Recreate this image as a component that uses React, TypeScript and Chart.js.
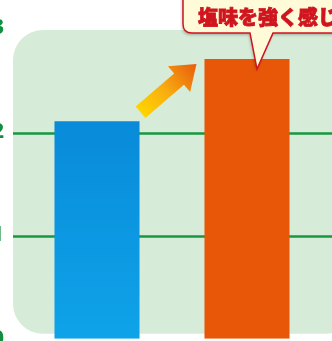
import React, { useEffect, useRef } from "react";
import { Chart, registerables } from "chart.js";

Chart.register(...registerables);

const categories = ["A", "B"];
const values = [2.1, 2.7];
const yTicks = [0, 1, 2, 3];
const gridValues = [1, 2];
const calloutText = "塩味を強く感じる";

const PANEL = "#d6ecd8";
const GRID = "#17973f";
const TICK = "#10903f";
const ORANGE = "#e85708";
const RED = "#d0151f";

const decor = {
  id: "decor",
  beforeDraw(chart: any) {
    const { ctx, chartArea, scales } = chart;
    const y = scales.y;
    ctx.save();
    ctx.fillStyle = "#ffffff";
    ctx.fillRect(0, 0, chart.width, chart.height);
    const left = chartArea.left - 9;
    const top = y.getPixelForValue(3) + 2;
    const right = chart.width + 10;
    const bottom = y.getPixelForValue(0) - 5;
    ctx.fillStyle = PANEL;
    ctx.beginPath();
    (ctx as any).roundRect(left, top, right - left, bottom - top, 30);
    ctx.fill();
    ctx.restore();
  },
  beforeDatasetsDraw(chart: any) {
    const { ctx, chartArea, scales } = chart;
    const y = scales.y;
    ctx.save();
    ctx.strokeStyle = GRID;
    ctx.lineWidth = 2.5;
    gridValues.forEach((v) => {
      const py = Math.round(y.getPixelForValue(v)) + 1.5;
      ctx.beginPath();
      ctx.moveTo(chartArea.left - 9, py);
      ctx.lineTo(chart.width, py);
      ctx.stroke();
    });
    ctx.restore();
  },
  afterDraw(chart: any) {
    const { ctx } = chart;
    const els = chart.getDatasetMeta(0).data;
    const b = els[0];
    const o = els[1];
    // arrow
    const tx = b.x + b.width / 2 + 1;
    const ty = b.y - 9;
    const hx = o.x - o.width / 2 - 8;
    const hy = o.y + 5;
    const dx = hx - tx;
    const dy = hy - ty;
    const len = Math.hypot(dx, dy);
    const ux = dx / len;
    const uy = dy / len;
    const nx = -uy;
    const ny = ux;
    const sw = 7.5;
    const hw = 17;
    const hl = 23;
    const bx = hx - ux * hl;
    const by = hy - uy * hl;
    ctx.save();
    const g = ctx.createLinearGradient(tx, ty, hx, hy);
    g.addColorStop(0, "#ffd400");
    g.addColorStop(0.45, "#f8ad10");
    g.addColorStop(1, "#e85c0c");
    ctx.fillStyle = g;
    ctx.beginPath();
    ctx.moveTo(tx + nx * sw, ty + ny * sw);
    ctx.lineTo(bx + nx * sw, by + ny * sw);
    ctx.lineTo(bx + nx * hw, by + ny * hw);
    ctx.lineTo(hx, hy);
    ctx.lineTo(bx - nx * hw, by - ny * hw);
    ctx.lineTo(bx - nx * sw, by - ny * sw);
    ctx.lineTo(tx - nx * sw, ty - ny * sw);
    ctx.closePath();
    ctx.fill();
    ctx.restore();

    // callout
    const tipX = o.x + 10;
    const tipY = o.y + 10;
    const left = o.x - 64;
    const boxBottom = o.y - 26;
    const boxTop = -5;
    const right = chart.width + 10;
    const r = 9;
    ctx.save();
    ctx.shadowColor = "rgba(0,0,0,0.25)";
    ctx.shadowBlur = 3;
    ctx.shadowOffsetX = -1;
    ctx.shadowOffsetY = 2;
    ctx.fillStyle = "#fffbd9";
    ctx.strokeStyle = RED;
    ctx.lineWidth = 1.5;
    ctx.beginPath();
    ctx.moveTo(left, boxTop);
    ctx.lineTo(left, boxBottom - r);
    ctx.quadraticCurveTo(left, boxBottom, left + r, boxBottom);
    ctx.lineTo(o.x + 3, boxBottom);
    ctx.lineTo(tipX, tipY);
    ctx.lineTo(o.x + 26, boxBottom);
    ctx.lineTo(right, boxBottom);
    ctx.lineTo(right, boxTop);
    ctx.closePath();
    ctx.fill();
    ctx.shadowColor = "transparent";
    ctx.stroke();
    ctx.fillStyle = RED;
    ctx.strokeStyle = RED;
    ctx.lineWidth = 0.8;
    ctx.font = "900 20px 'Noto Sans CJK JP'";
    ctx.textBaseline = "alphabetic";
    ctx.textAlign = "left";
    ctx.fillText(calloutText, left + 15, boxBottom - 8);
    ctx.strokeText(calloutText, left + 15, boxBottom - 8);
    ctx.restore();
  },
};

export default function App() {
  const ref = useRef<HTMLCanvasElement>(null);
  useEffect(() => {
    const canvas = ref.current!;
    const chart = new Chart(canvas, {
      type: "bar",
      data: {
        labels: categories,
        datasets: [
          {
            data: values,
            backgroundColor: (c: any) => {
              if (c.dataIndex === 1) return ORANGE;
              const area = c.chart.chartArea;
              if (!area) return "#0a8ed9";
              const g = c.chart.ctx.createLinearGradient(0, area.top, 0, area.bottom);
              g.addColorStop(0, "#0680d2");
              g.addColorStop(1, "#0ea3e9");
              return g;
            },
            borderWidth: 0,
            barPercentage: 1,
            categoryPercentage: 0.567,
          },
        ],
      },
      options: {
        animation: false,
        responsive: false,
        devicePixelRatio: 1,
        layout: { padding: { top: 58, bottom: 30, right: 24, left: 0 } },
        plugins: { legend: { display: false }, tooltip: { enabled: false } },
        scales: {
          x: { display: false },
          y: {
            min: 0,
            max: 3,
            afterFit: (s: any) => {
              s.width = 36;
            },
            afterBuildTicks: (s: any) => {
              s.ticks = yTicks.map((v) => ({ value: v }));
            },
            grid: { display: false, drawTicks: false },
            border: { display: false },
            ticks: {
              padding: 18,
              color: TICK,
              font: { family: "'Noto Sans', sans-serif", weight: "bold", size: 22 },
            },
          },
        },
      },
      plugins: [decor],
    });
    return () => chart.destroy();
  }, []);
  return (
    <div
      style={{
        position: "absolute",
        left: 0,
        top: 0,
        width: 332,
        height: 341,
        overflow: "hidden",
        background: "#fff",
      }}
    >
      <canvas
        ref={ref}
        width={360}
        height={400}
        style={{ position: "absolute", left: -14, top: -30, width: 360, height: 400 }}
      />
    </div>
  );
}
